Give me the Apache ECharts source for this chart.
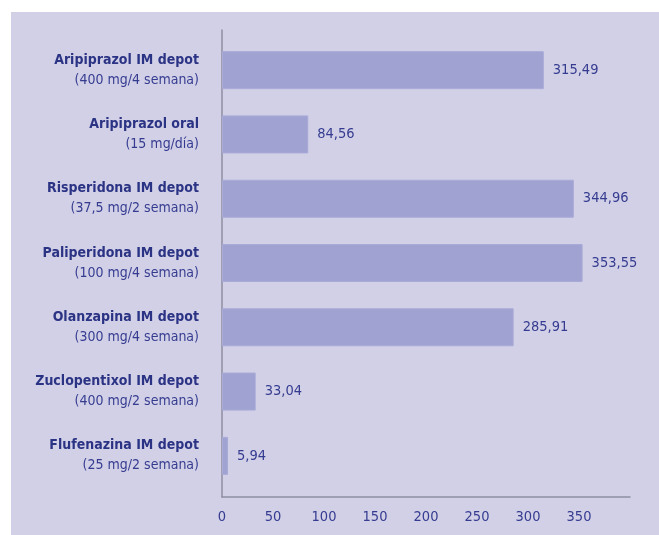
<!DOCTYPE html>
<html>
<head>
<meta charset="utf-8">
<script src="https://cdn.jsdelivr.net/npm/echarts@6/dist/echarts.min.js"></script>
<style>
html,body{margin:0;padding:0;background:#ffffff;}
#wrap{position:absolute;left:11px;top:12px;width:648px;height:523px;background:#d2d0e7;}
#c{position:absolute;left:0;top:0;width:659px;height:535px;}
</style>
</head>
<body>
<div id="wrap"></div>
<div id="c"></div>
<script>
const drugNames = ["Aripiprazol IM depot","Aripiprazol oral","Risperidona IM depot","Paliperidona IM depot","Olanzapina IM depot","Zuclopentixol IM depot","Flufenazina IM depot"];
const doses = ["(400 mg/4 semana)","(15 mg/día)","(37,5 mg/2 semana)","(100 mg/4 semana)","(300 mg/4 semana)","(400 mg/2 semana)","(25 mg/2 semana)"];
const values = [315.49, 84.56, 344.96, 353.55, 285.91, 33.04, 5.94];
const xTicks = [0, 50, 100, 150, 200, 250, 300, 350];

const FONT = '"Liberation Sans Narrow","DejaVu Sans Condensed","Open Sans",sans-serif';
const NAVY = '#353c90';
const categories = drugNames.map((n, i) => n + '\n' + doses[i]);

const chart = echarts.init(document.getElementById('c'), null, {renderer: 'canvas'});
chart.setOption({
  backgroundColor: 'transparent',
  animation: false,
  grid: [
    {left: 222, right: 29, top: 30, bottom: 38},
    {left: 222, right: 29, top: 38, bottom: 47}
  ],
  xAxis: [
    {
      gridIndex: 0, type: 'value', min: 0, max: 400, interval: 50,
      axisLine: {show: true, lineStyle: {color: '#8e8ea2', width: 1.5}},
      axisTick: {show: false},
      splitLine: {show: false},
      axisLabel: {
        color: NAVY, fontFamily: FONT, fontSize: 14.5, margin: 13,
        formatter: v => xTicks.indexOf(v) >= 0 ? String(v) : ''
      }
    },
    {
      gridIndex: 1, type: 'value', min: 0, max: 400, show: false
    }
  ],
  yAxis: [
    {
      gridIndex: 0, type: 'value', min: 0, max: 1,
      axisLine: {show: true, lineStyle: {color: '#8e8ea2', width: 1.5}},
      axisTick: {show: false}, axisLabel: {show: false}, splitLine: {show: false}
    },
    {
      gridIndex: 1, type: 'category', data: categories, inverse: true,
      axisLine: {show: false}, axisTick: {show: false},
      axisLabel: {
        margin: 23, align: 'right',
        formatter: function (v) {
          const p = v.split('\n');
          return '{b|' + p[0] + '}\n{n|' + p[1] + '}';
        },
        rich: {
          b: {color: '#2b3384', fontFamily: FONT, fontSize: 14, fontWeight: 'bold', lineHeight: 20, align: 'right'},
          n: {color: NAVY, fontFamily: FONT, fontSize: 14, lineHeight: 20, align: 'right'}
        }
      }
    }
  ],
  series: [{
    type: 'bar',
    xAxisIndex: 1, yAxisIndex: 1,
    data: values,
    barWidth: 38,
    itemStyle: {color: '#a0a2d2', borderColor: '#a9aad7', borderWidth: 1},
    label: {
      show: true, position: 'right', distance: 9,
      color: NAVY, fontFamily: FONT, fontSize: 14.5,
      formatter: p => p.value.toFixed(2).replace('.', ',')
    }
  }]
});
</script>
</body>
</html>
